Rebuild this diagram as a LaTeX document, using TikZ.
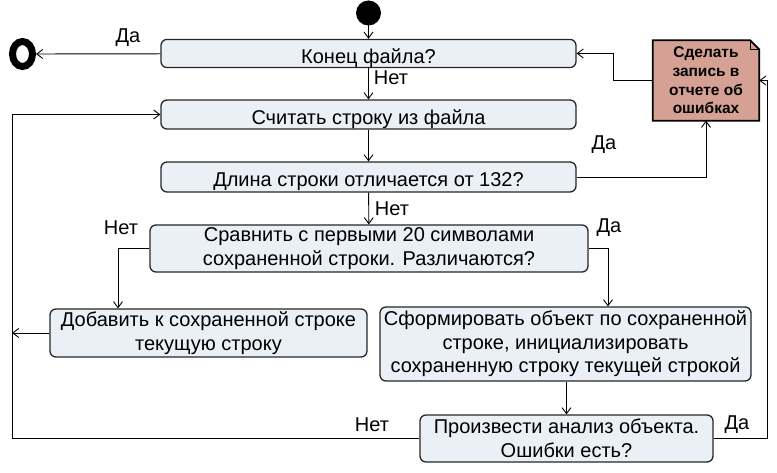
\documentclass[tikz,border=0pt]{standalone}
\usepackage{fontspec}
\setmainfont{Liberation Sans}
\usetikzlibrary{arrows.meta,shapes.geometric,backgrounds}

\definecolor{actfill}{HTML}{EBF0F7}
\definecolor{notefill}{HTML}{D5A195}

\begin{document}
\begin{tikzpicture}[x=1pt,y=-1pt,
	font=\fontsize{20}{23.5}\selectfont,
	act/.style={draw=black!85, line width=1.3pt, fill=actfill, rounded corners=6pt,
		inner sep=0pt, align=center, execute at begin node={\rule{0pt}{24pt}}},
	flow/.style={line width=0.9pt, -{Straight Barb[length=6pt,width=9pt]}},
	lbl/.style={inner sep=1pt}
]
\useasboundingbox (0,0) rectangle (777,473);

% start and end
\fill (368.5,13) circle (12.5);
\node[draw, line width=7pt, ellipse, minimum width=20pt, minimum height=25pt, inner sep=0pt] (fin) at (22.5,54) {};
\coordinate (start) at (368.5,25.5);

% actions
\node[act, minimum width=415pt, minimum height=27pt] (eof) at (368.5,53.5) {Конец файла?};
\node[act, minimum width=415pt, minimum height=29pt] (read) at (368.5,114.5) {Считать строку из файла};
\node[act, minimum width=415pt, minimum height=30pt] (len) at (368.5,177) {Длина строки отличается от 132?};
\node[act, minimum width=438pt, minimum height=47pt] (cmp) at (369,248.5) {Сравнить с первыми 20 символами\\сохраненной строки. Различаются?};
\node[act, minimum width=317pt, minimum height=48pt] (add) at (208.5,333) {Добавить к сохраненной строке\\текущую строку};
\node[act, minimum width=371pt, minimum height=74pt] (make) at (565.5,344) {Сформировать объект по сохраненной\\строке, инициализировать\\сохраненную строку текущей строкой};
\node[act, minimum width=293pt, minimum height=47pt] (check) at (566.5,438.5) {Произвести анализ объекта.\\Ошибки есть?};

% error note
\node[inner sep=0pt, minimum width=106pt, minimum height=80pt, align=center,
	font=\fontsize{15.5}{18.7}\selectfont\bfseries] (err) at (706,80.5) {Сделать\\запись в\\отчете об\\ошибках};
\begin{scope}[on background layer]
\draw[line width=1.8pt, fill=notefill] (err.north west) -- ([xshift=-9pt]err.north east)
	-- ([yshift=-9pt]err.north east) -- (err.south east) -- (err.south west) -- cycle;
\draw[line width=1pt] ([xshift=-9pt]err.north east) -- ([xshift=-9pt,yshift=-9pt]err.north east)
	-- ([yshift=-9pt]err.north east);
\end{scope}

% loop corners
\coordinate (lpB) at (12,438.5);
\coordinate (lpT) at (12,114.5);
\coordinate (rpB) at (767,438.5);
\coordinate (rpT) at (767,80.5);
\coordinate (cmpL) at (118,248.5);
\coordinate (cmpR) at (608,248.5);

% connectors
\draw[flow] (start) -- (eof);
\draw[flow] (eof) -- (fin);
\draw[flow] (eof) -- (read);
\draw[flow] (read) -- (len);
\draw[flow] (len.east) -| (err.south);
\draw[flow] (err.west) -- ++(-39,0) |- (eof.east);
\draw[flow] (len) -- (cmp);
\draw[flow] (cmp.west) -- (cmpL) -- (cmpL |- add.north);
\draw[flow] (cmp.east) -- (cmpR) -- (cmpR |- make.north);
\draw[flow] (add.west) -- (lpT |- add.west);
\draw[flow] (make.south -| check.north) -- (check.north);
\draw[flow] (check.west) -- (lpB) -- (lpT) -- (read.west);
\draw[flow] (check.east) -- (rpB) -- (rpT) -- (err.east);

% labels
\node[lbl] (yesA) at (128,38) {Да};
\node[lbl] (noA) at (391,78) {Нет};
\node[lbl] (yesB) at (604,145) {Да};
\node[lbl] (noB) at (392,209) {Нет};
\node[lbl] (noC) at (121,228) {Нет};
\node[lbl] (yesC) at (609,228) {Да};
\node[lbl] (noE) at (372,425) {Нет};
\node[lbl] (yesE) at (737,425) {Да};
\end{tikzpicture}
\end{document}
